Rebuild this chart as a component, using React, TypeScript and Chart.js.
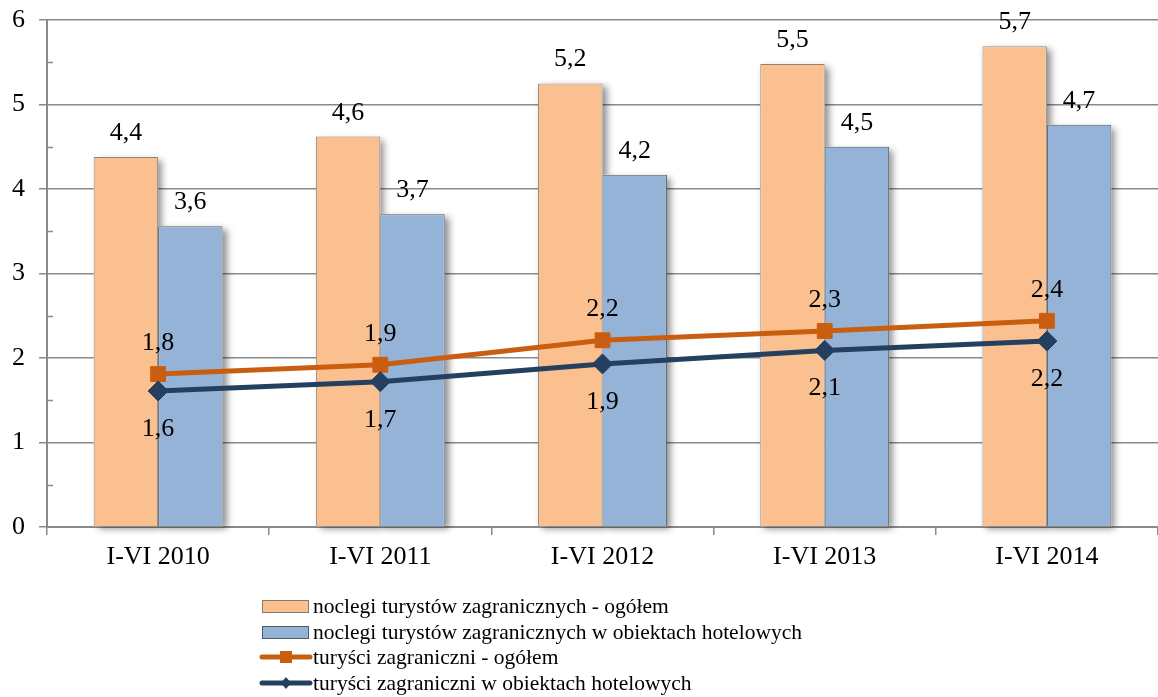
import React, { useEffect, useRef } from "react";
import { Chart, registerables } from "chart.js";

Chart.register(...registerables);

const categories = ["I-VI 2010", "I-VI 2011", "I-VI 2012", "I-VI 2013", "I-VI 2014"];
const noclegiOgolem = [4.38, 4.62, 5.25, 5.48, 5.69];
const noclegiHotel = [3.56, 3.7, 4.17, 4.5, 4.76];
const turysciOgolem = [1.81, 1.92, 2.21, 2.32, 2.44];
const turysciHotel = [1.61, 1.72, 1.93, 2.09, 2.2];
const labNoclegiOgolem = ["4,4", "4,6", "5,2", "5,5", "5,7"];
const labNoclegiHotel = ["3,6", "3,7", "4,2", "4,5", "4,7"];
const labTurysciOgolem = ["1,8", "1,9", "2,2", "2,3", "2,4"];
const labTurysciHotel = ["1,6", "1,7", "1,9", "2,1", "2,2"];
const yTicks = [0, 1, 2, 3, 4, 5, 6];
const seriesNames = [
  "noclegi turystów zagranicznych - ogółem",
  "noclegi turystów zagranicznych w obiektach hotelowych",
  "turyści zagraniczni - ogółem",
  "turyści zagraniczni w obiektach hotelowych",
];

const ORANGE_BAR = "#FAC090";
const BLUE_BAR = "#95B3D7";
const ORANGE_LINE = "#CA5E10";
const NAVY_LINE = "#243F60";
const GRID = "#8a8a8a";
const FONT = "'Liberation Serif', 'Times New Roman', serif";

export default function App() {
  const ref = useRef<HTMLCanvasElement>(null);

  useEffect(() => {
    const canvas = ref.current!;
    const shadowPlugin = {
      id: "barShadow",
      beforeDatasetsDraw(chart: any) {
        const ctx = chart.ctx;
        ctx.save();
        ctx.shadowColor = "rgba(0,0,0,0.45)";
        ctx.shadowBlur = 7;
        ctx.shadowOffsetX = 4;
        ctx.shadowOffsetY = 3;
        ctx.fillStyle = "#ffffff";
        [0, 1].forEach((di) => {
          const meta = chart.getDatasetMeta(di);
          meta.data.forEach((el: any) => {
            const w = el.width;
            ctx.fillRect(el.x - w / 2, el.y, w, el.base - el.y);
          });
        });
        ctx.restore();
      },
    };

    const minorTicks = {
      id: "minorTicks",
      afterDraw(chart: any) {
        const ctx = chart.ctx;
        const y = chart.scales.y;
        const left = chart.chartArea.left;
        ctx.save();
        ctx.strokeStyle = GRID;
        ctx.lineWidth = 1.5;
        for (let i = 0; i < yTicks.length - 1; i++) {
          const v = (yTicks[i] + yTicks[i + 1]) / 2;
          const py = Math.round(y.getPixelForValue(v)) + 0.5;
          ctx.beginPath();
          ctx.moveTo(left, py);
          ctx.lineTo(left + 6, py);
          ctx.stroke();
        }
        ctx.restore();
      },
    };

    const labelsPlugin = {
      id: "valueLabels",
      afterDatasetsDraw(chart: any) {
        const ctx = chart.ctx;
        ctx.save();
        ctx.font = `26px ${FONT}`;
        ctx.fillStyle = "#000";
        ctx.textAlign = "center";
        ctx.textBaseline = "alphabetic";
        const sets = [
          { idx: 0, labels: labNoclegiOgolem, dy: -17 },
          { idx: 1, labels: labNoclegiHotel, dy: -17 },
          { idx: 2, labels: labTurysciOgolem, dy: -24 },
          { idx: 3, labels: labTurysciHotel, dy: 45 },
        ];
        sets.forEach((s) => {
          const meta = chart.getDatasetMeta(s.idx);
          meta.data.forEach((el: any, i: number) => {
            ctx.fillText(s.labels[i], el.x, el.y + s.dy);
          });
        });
        ctx.restore();
      },
    };

    const legendPlugin = {
      id: "customLegend",
      afterDraw(chart: any) {
        const ctx = chart.ctx;
        ctx.save();
        const rows = [606, 632, 657, 683];
        const x0 = 262;
        const tx = 313;
        ctx.font = `21.5px ${FONT}`;
        ctx.textBaseline = "middle";
        ctx.textAlign = "left";
        ctx.fillStyle = ORANGE_BAR;
        ctx.fillRect(x0, rows[0] - 6, 46, 12);
        ctx.strokeStyle = "#8a7a6a";
        ctx.lineWidth = 1;
        ctx.strokeRect(x0 + 0.5, rows[0] - 5.5, 46, 12);
        ctx.fillStyle = BLUE_BAR;
        ctx.fillRect(x0, rows[1] - 6, 46, 12);
        ctx.strokeStyle = "#505a66";
        ctx.strokeRect(x0 + 0.5, rows[1] - 5.5, 46, 12);
        ctx.strokeStyle = ORANGE_LINE;
        ctx.lineWidth = 5;
        ctx.lineCap = "round";
        ctx.beginPath();
        ctx.moveTo(x0, rows[2]);
        ctx.lineTo(x0 + 48, rows[2]);
        ctx.stroke();
        ctx.fillStyle = ORANGE_LINE;
        ctx.fillRect(x0 + 18, rows[2] - 6, 12, 12);
        ctx.strokeStyle = NAVY_LINE;
        ctx.beginPath();
        ctx.moveTo(x0, rows[3]);
        ctx.lineTo(x0 + 48, rows[3]);
        ctx.stroke();
        ctx.fillStyle = NAVY_LINE;
        ctx.beginPath();
        const cx = x0 + 24;
        ctx.moveTo(cx, rows[3] - 6);
        ctx.lineTo(cx + 5, rows[3]);
        ctx.lineTo(cx, rows[3] + 6);
        ctx.lineTo(cx - 5, rows[3]);
        ctx.closePath();
        ctx.fill();
        ctx.fillStyle = "#000";
        seriesNames.forEach((n, i) => ctx.fillText(n, tx, rows[i] + 1));
        ctx.restore();
      },
    };

    const chart = new Chart(canvas, {
      type: "bar",
      data: {
        labels: categories,
        datasets: [
          {
            type: "bar",
            label: seriesNames[0],
            data: noclegiOgolem,
            backgroundColor: ORANGE_BAR,
            borderColor: "#8f8275",
            borderWidth: 1,
            categoryPercentage: 0.58,
            barPercentage: 1,
            order: 2,
          },
          {
            type: "bar",
            label: seriesNames[1],
            data: noclegiHotel,
            backgroundColor: BLUE_BAR,
            borderColor: "#505a66",
            borderWidth: 1,
            categoryPercentage: 0.58,
            barPercentage: 1,
            order: 2,
          },
          {
            type: "line",
            label: seriesNames[2],
            data: turysciOgolem,
            borderColor: ORANGE_LINE,
            backgroundColor: ORANGE_LINE,
            borderWidth: 5,
            pointStyle: "rect",
            pointRadius: 10.5,
            pointBorderWidth: 1,
            tension: 0,
            order: 1,
          },
          {
            type: "line",
            label: seriesNames[3],
            data: turysciHotel,
            borderColor: NAVY_LINE,
            backgroundColor: NAVY_LINE,
            borderWidth: 5,
            pointStyle: "rectRot",
            pointRadius: 10,
            pointBorderWidth: 1,
            tension: 0,
            order: 0,
          },
        ] as any,
      },
      options: {
        responsive: false,
        devicePixelRatio: 1,
        animation: false,
        layout: { autoPadding: false, padding: { top: 20, right: 0, left: 0, bottom: 0 } },
        plugins: {
          legend: { display: false },
          tooltip: { enabled: false },
          title: { display: false },
        },
        scales: {
          x: {
            offset: true,
            grid: {
              offset: true,
              drawOnChartArea: false,
              drawTicks: true,
              tickLength: 8,
              color: GRID,
              lineWidth: 1.5,
            },
            border: { display: true, color: GRID, width: 2 },
            ticks: {
              color: "#000",
              font: { family: FONT, size: 26 },
              padding: 7,
              maxRotation: 0,
            },
            afterFit(scale: any) {
              scale.height = 170;
              scale.paddingLeft = 0;
              scale.paddingRight = 0;
            },
          },
          y: {
            min: 0,
            max: 6,
            afterBuildTicks(scale: any) {
              scale.ticks = yTicks.map((v) => ({ value: v }));
            },
            grid: {
              color: GRID,
              lineWidth: 1.5,
              tickLength: 8,
            },
            border: { display: true, color: GRID, width: 2 },
            ticks: {
              color: "#000",
              font: { family: FONT, size: 26 },
              padding: 14,
            },
            afterFit(scale: any) {
              scale.width = 47;
              scale.paddingTop = 0;
              scale.paddingBottom = 0;
            },
          },
        },
      },
      plugins: [shadowPlugin, minorTicks, labelsPlugin, legendPlugin],
    });
    return () => chart.destroy();
  }, []);

  return (
    <div style={{ position: "fixed", left: 0, top: 0, width: 1158, height: 697, background: "#fff" }}>
      <canvas ref={ref} width={1158} height={697} style={{ width: 1158, height: 697, display: "block" }} />
    </div>
  );
}
